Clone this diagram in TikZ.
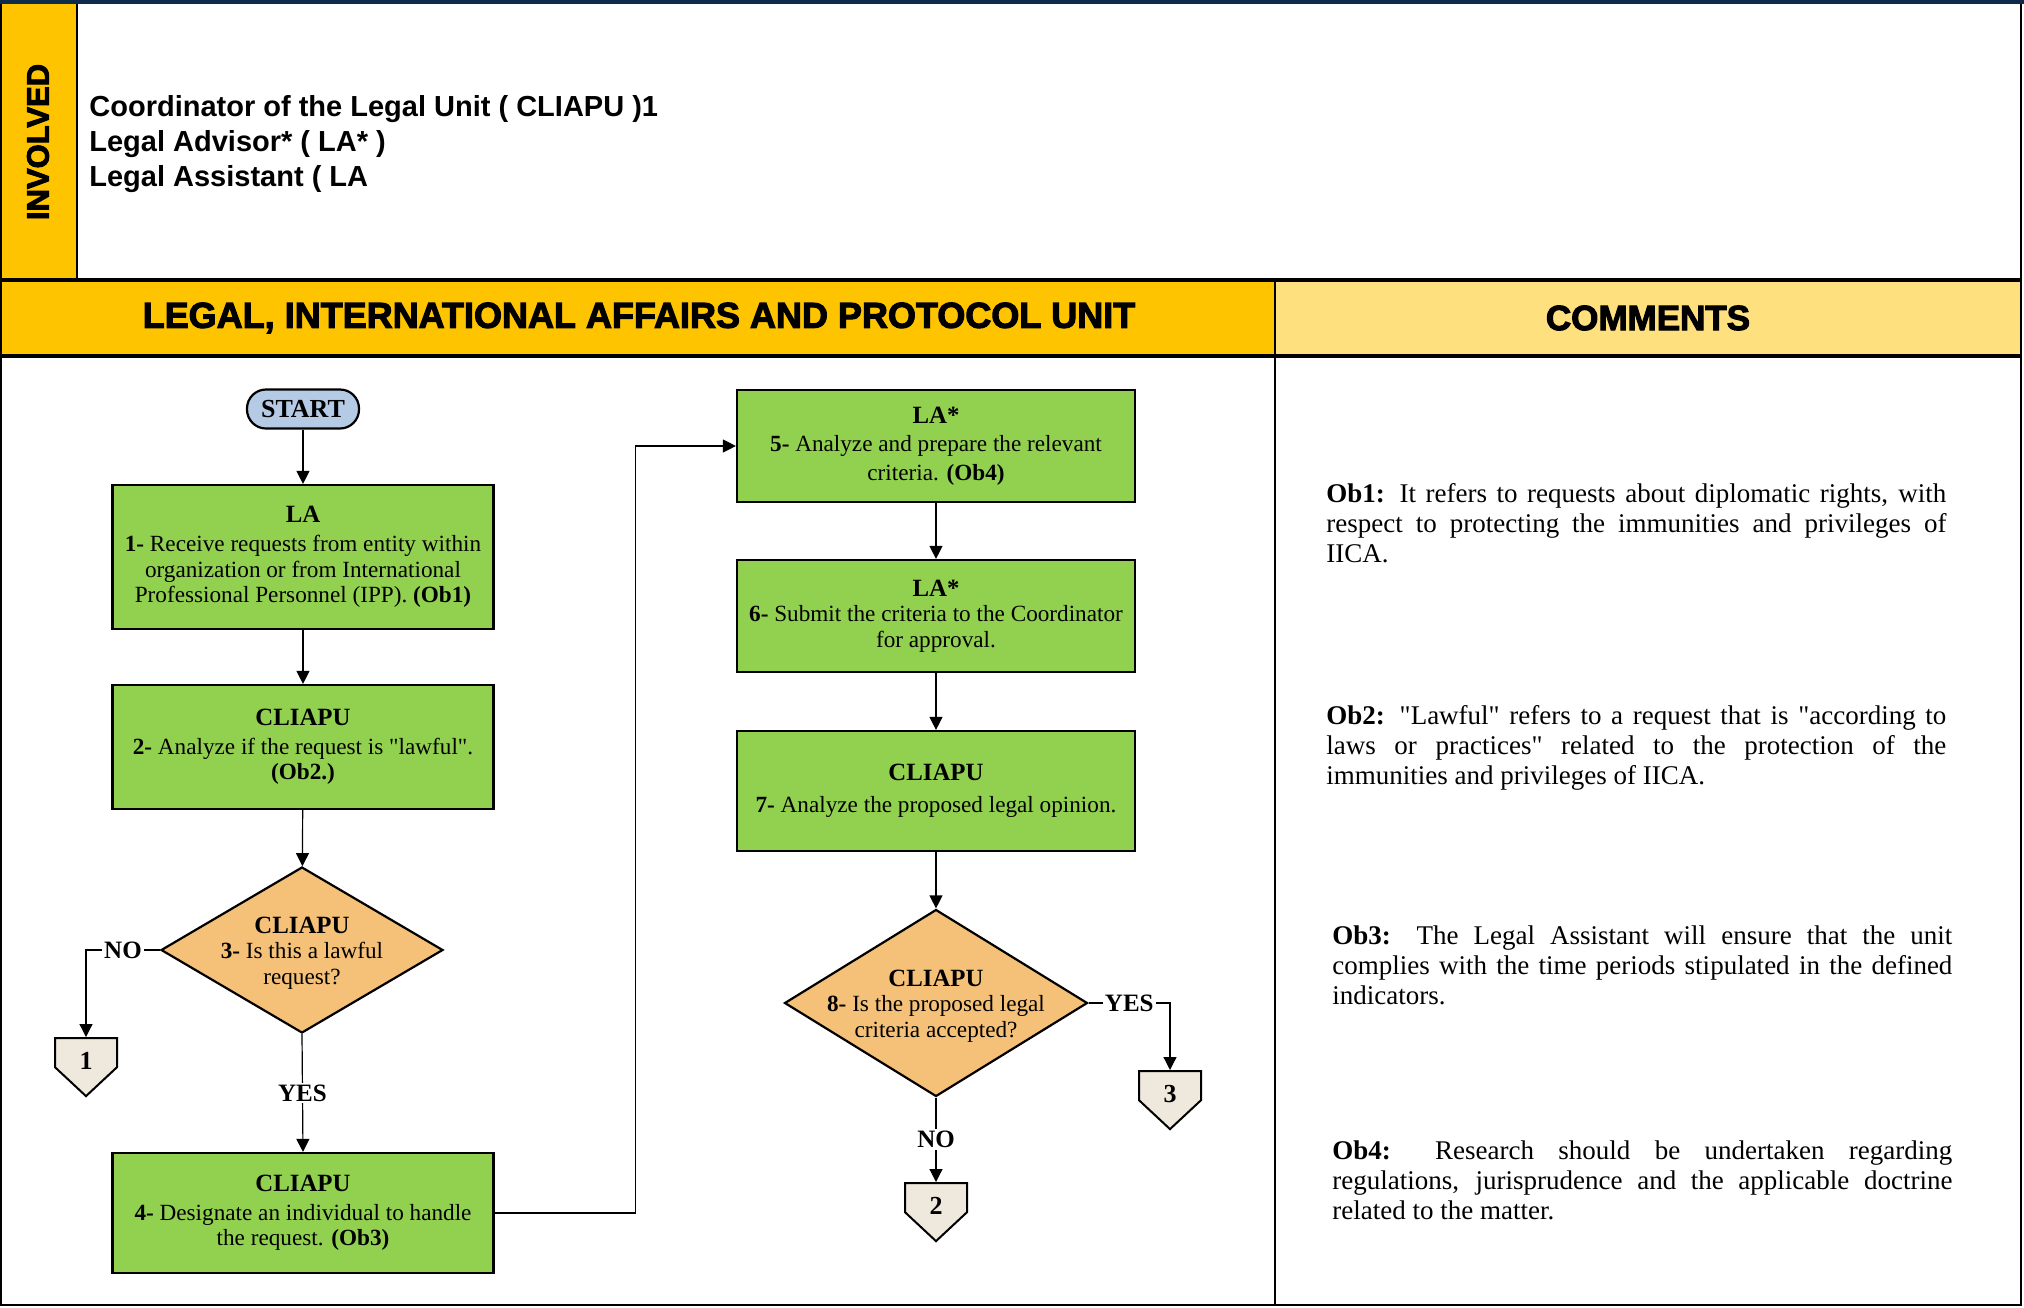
\documentclass[tikz,border=0pt]{standalone}
\usepackage{fontspec}
\setmainfont{Liberation Serif}[Ligatures=TeXOff]
\setsansfont{Liberation Sans}
\newfontfamily\blackfont{Liberation Sans}[BoldFeatures={FakeBold=3}]
\usetikzlibrary{shapes.geometric, shapes.symbols, arrows.meta}
\definecolor{unitgold}{HTML}{FFC400}
\definecolor{commentgold}{HTML}{FFE07F}
\definecolor{stepgreen}{HTML}{92D050}
\definecolor{askorange}{HTML}{F5C178}
\definecolor{startblue}{HTML}{B5CAE4}
\definecolor{pagegray}{HTML}{EEE8DD}
\definecolor{topnavy}{HTML}{0F2B4B}
\tikzstyle{startnode}=[rectangle, rounded corners=9.5pt, draw, line width=1.1pt, fill=startblue, minimum width=56pt, minimum height=19.5pt, inner sep=0pt, font=\fontsize{13}{13}\selectfont\bfseries]
\tikzstyle{stepbox}=[rectangle, draw, line width=1.1pt, fill=stepgreen, align=center, inner sep=2pt, font=\fontsize{11.6}{12.8}\selectfont]
\tikzstyle{ask}=[diamond, draw, line width=1.1pt, fill=askorange, inner sep=0pt]
\tikzstyle{asktext}=[align=center, inner sep=0pt, font=\fontsize{11.6}{12.8}\selectfont]
\tikzstyle{offpage}=[signal, signal to=south, signal from=nowhere, signal pointer angle=94, draw, line width=1pt, fill=pagegray, minimum width=31pt, minimum height=19.5pt, inner sep=2pt, font=\fontsize{13}{13}\selectfont\bfseries]
\tikzstyle{flow}=[-{Triangle[length=6.5pt, width=6.5pt]}, line width=0.6pt]
\tikzstyle{answer}=[fill=white, inner sep=1pt, font=\fontsize{12.5}{13}\selectfont\bfseries]
\tikzstyle{note}=[anchor=north west, text width=310pt, align=justify, inner sep=0pt, font=\fontsize{13.5}{15.1}\selectfont]
\newcommand{\steptitle}[1]{{\fontsize{12.4}{13}\selectfont\bfseries #1}}
\newcommand{\pagenum}[1]{\smash{\raisebox{-8.5pt}{#1}}}

\begin{document}
\begin{tikzpicture}[x=0.5pt, y=-0.5pt]
    \useasboundingbox (0,0) rectangle (2024,1307);
    \fill[unitgold] (0,0) rectangle (77,280);
    \fill[unitgold] (0,280) rectangle (1275,356);
    \fill[commentgold] (1275,280) rectangle (2022,356);
    \draw[line width=1.2pt] (77,0) -- (77,280);
    \draw[line width=1.6pt] (0,280) -- (2022,280);
    \draw[line width=1.6pt] (0,356) -- (2022,356);
    \draw[line width=1.2pt] (1275,280) -- (1275,1306);
    \draw[line width=1.4pt] (1,1) rectangle (2021,1305);
    \draw[topnavy, line width=2pt] (0,2) -- (2024,2);

    \node[rotate=90, font=\blackfont\bfseries\fontsize{15.5}{16}\selectfont] (involved) at (38,142) {INVOLVED};
    \node[anchor=west, align=left, inner sep=0pt, font=\sffamily\bfseries\fontsize{14.5}{17.5}\selectfont] (people) at (89,144)
        {Coordinator of the Legal Unit ( CLIAPU )1\\Legal Advisor* ( LA* )\\Legal Assistant ( LA};
    \node[font=\blackfont\bfseries\fontsize{18}{18}\selectfont] (unit) at (639,318) {LEGAL, INTERNATIONAL AFFAIRS AND PROTOCOL UNIT};
    \node[font=\blackfont\bfseries\fontsize{17.5}{18}\selectfont] (comments) at (1648,318) {COMMENTS};

    \node[startnode] (start) at (303,409) {START};
    \node[stepbox, minimum width=190.5pt, minimum height=72pt] (s1) at (303,557)
        {\steptitle{LA}\\[1.5pt]\textbf{1-} Receive requests from entity within\\organization or from  International\\Professional Personnel (IPP). \textbf{(Ob1)}};
    \node[stepbox, minimum width=190.5pt, minimum height=62pt] (s2) at (303,747)
        {\steptitle{CLIAPU}\\[1.5pt]\textbf{2-} Analyze if the request is "lawful".\\\textbf{(Ob2.)}};
    \node[ask, minimum width=141pt, minimum height=83pt] (d3) at (302,950) {};
    \node[asktext] (d3text) at (302,953) {\steptitle{CLIAPU}\\\textbf{3-} Is this a lawful\\request?};
    \node[stepbox, minimum width=190.5pt, minimum height=60pt] (s4) at (303,1213)
        {\steptitle{CLIAPU}\\[1.5pt]\textbf{4-} Designate an individual to handle\\the request. \textbf{(Ob3)}};
    \node[offpage, anchor=north] (c1) at (86,1037) {\pagenum{1}};

    \node[stepbox, minimum width=199pt, minimum height=56pt] (s5) at (936,446)
        {\steptitle{LA*}\\[1.5pt]\textbf{5-} Analyze and prepare the relevant\\[1.5pt]criteria. \textbf{(Ob4)}};
    \node[stepbox, minimum width=199pt, minimum height=56pt] (s6) at (936,616)
        {\steptitle{LA*}\\\textbf{6-} Submit the criteria to the Coordinator\\for approval.};
    \node[stepbox, minimum width=199pt, minimum height=60pt] (s7) at (936,791)
        {\steptitle{CLIAPU}\\[3pt]\textbf{7-} Analyze the proposed legal opinion.};
    \node[ask, minimum width=151.5pt, minimum height=93.5pt] (d8) at (936,1003) {};
    \node[asktext] (d8text) at (936,1006) {\steptitle{CLIAPU}\\\textbf{8-} Is the proposed legal\\criteria accepted?};
    \node[offpage, anchor=north] (c2) at (936,1182) {\pagenum{2}};
    \node[offpage, anchor=north] (c3) at (1170,1070) {\pagenum{3}};

    \draw[flow] (start) -- (s1);
    \draw[flow] (s1) -- (s2);
    \draw[flow] (s2) -- (d3);
    \draw[flow] (d3.west) -| node[answer, pos=0.25] (no1) {NO} (c1.north);
    \draw[flow] (d3.south) -- node[answer] (yes1) {YES} (s4.north);
    \draw[flow] (s4.east) -- ++(141,0) |- (s5.west);
    \draw[flow] (s5) -- (s6);
    \draw[flow] (s6) -- (s7);
    \draw[flow] (s7) -- (d8);
    \draw[flow] (d8.east) -| node[answer, pos=0.25] (yes2) {YES} (c3.north);
    \draw[flow] (d8.south) -- node[answer] (no2) {NO} (c2.north);

    \node[note] (ob1) at (1326,483) {\textbf{Ob1:} It refers to requests about diplomatic rights, with\linebreak respect to protecting the immunities and privileges of\linebreak IICA.};
    \node[note] (ob2) at (1326,705) {\textbf{Ob2:} "Lawful" refers to a request that is "according to\linebreak laws or practices" related to the protection of the\linebreak immunities and privileges of IICA.};
    \node[note] (ob3) at (1332,925) {\textbf{Ob3:} The Legal Assistant will ensure that the unit\linebreak complies with the time periods stipulated in the defined\linebreak indicators.};
    \node[note] (ob4) at (1332,1140) {\textbf{Ob4:} Research should be undertaken regarding\linebreak regulations, jurisprudence and the applicable doctrine\linebreak related to the matter.};
\end{tikzpicture}
\end{document}
